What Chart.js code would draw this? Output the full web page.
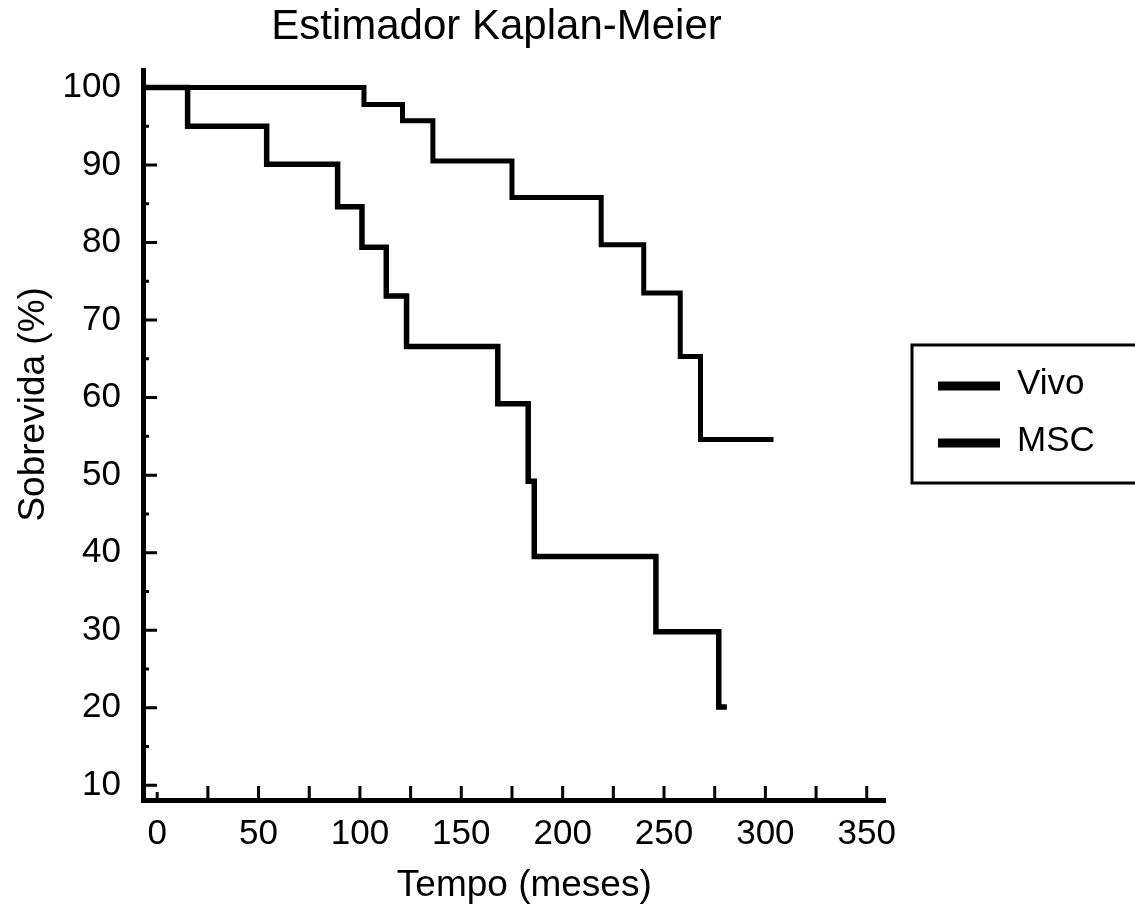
<!DOCTYPE html>
<html>
<head>
<meta charset="utf-8">
<title>Estimador Kaplan-Meier</title>
<script src="https://cdn.jsdelivr.net/npm/chart.js@4.4.1/dist/chart.umd.min.js"></script>
<style>
  html, body { margin: 0; padding: 0; background: #fff; }
  canvas { display: block; }
</style>
</head>
<body>
<canvas id="kmChart" width="1135" height="915"></canvas>
<script>
// Survival curves (months, % survival)
const vivoTime = [-7, 102, 121, 136, 175, 219, 240, 258, 268, 304];
const vivoSurv = [100, 97.8, 95.7, 90.5, 85.8, 79.7, 73.5, 65.3, 54.6, 54.6];
const mscTime = [-7, 15, 54, 89, 101, 113, 123, 168, 183, 186, 246, 277, 281];
const mscSurv = [100, 95.0, 90.1, 84.6, 79.4, 73.1, 66.6, 59.2, 49.2, 39.5, 29.8, 20.1, 20.1];

const seriesNames = ['Vivo', 'MSC'];
const xTicks = [0, 50, 100, 150, 200, 250, 300, 350];
const yTicks = [10, 20, 30, 40, 50, 60, 70, 80, 90, 100];

const FONT = '"Liberation Sans", Arial, Helvetica, sans-serif';

function toPoints(xs, ys) {
  return xs.map((x, i) => ({ x: x, y: ys[i] }));
}

// inward tick marks like the original (minor ones every 25 months / 5 %)
const tickMarks = {
  id: 'tickMarks',
  afterDraw(chart) {
    const ctx = chart.ctx;
    const xs = chart.scales.x, ys = chart.scales.y;
    const area = chart.chartArea;
    ctx.save();
    ctx.strokeStyle = '#000';
    ctx.lineWidth = 3;
    ctx.beginPath();
    for (let v = 0; v <= 350; v += 25) {
      const px = xs.getPixelForValue(v);
      ctx.moveTo(px, area.bottom);
      ctx.lineTo(px, area.bottom - (v === 0 ? 8 : 14));
    }
    for (let v = 10; v <= 100; v += 5) {
      const py = ys.getPixelForValue(v);
      ctx.moveTo(area.left, py);
      ctx.lineTo(area.left + (v % 10 === 0 ? 14 : 6), py);
    }
    ctx.stroke();
    ctx.restore();
  }
};

// legend drawn as a framed box to the right, like the original
const boxLegend = {
  id: 'boxLegend',
  afterDraw(chart) {
    const ctx = chart.ctx;
    const left = chart.chartArea.right + 27;
    const top = 345;
    ctx.save();
    ctx.strokeStyle = '#000';
    ctx.fillStyle = '#000';
    ctx.lineWidth = 3;
    ctx.strokeRect(left, top, 240, 138);
    ctx.font = '35px ' + FONT;
    ctx.textBaseline = 'middle';
    chart.data.datasets.forEach((ds, i) => {
      const y = top + 41 + i * 57;
      ctx.lineWidth = 9;
      ctx.beginPath();
      ctx.moveTo(left + 26, y);
      ctx.lineTo(left + 88, y);
      ctx.stroke();
      ctx.fillText(ds.label, left + 105, y - 2);
    });
    ctx.restore();
  }
};

new Chart(document.getElementById('kmChart'), {
  type: 'line',
  data: {
    datasets: [
      {
        label: seriesNames[0],
        data: toPoints(vivoTime, vivoSurv),
        stepped: true,
        borderColor: '#000',
        borderWidth: 5,
        pointRadius: 0,
        fill: false
      },
      {
        label: seriesNames[1],
        data: toPoints(mscTime, mscSurv),
        stepped: true,
        borderColor: '#000',
        borderWidth: 5.5,
        pointRadius: 0,
        fill: false
      }
    ]
  },
  options: {
    responsive: false,
    animation: false,
    layout: { padding: { left: 0, right: 250, top: 0, bottom: 0 } },
    plugins: {
      legend: { display: false },
      tooltip: { enabled: false },
      title: {
        display: true,
        fullSize: false,
        text: 'Estimador Kaplan-Meier   ',
        color: '#000',
        font: { family: FONT, size: 42, weight: 'normal' },
        padding: { top: 2, bottom: 18 }
      }
    },
    scales: {
      x: {
        type: 'linear',
        min: -7,
        max: 359,
        afterBuildTicks: s => { s.ticks = xTicks.map(v => ({ value: v })); },
        afterFit: s => { s.height = 115; },
        grid: { display: false },
        border: { display: true, color: '#000', width: 5 },
        ticks: { color: '#000', font: { family: FONT, size: 35 }, padding: 5, maxRotation: 0 },
        title: {
          display: true,
          text: '  Tempo (meses)',
          color: '#000',
          font: { family: FONT, size: 37 },
          padding: { top: 0, bottom: 7 }
        }
      },
      y: {
        type: 'linear',
        min: 8.1,
        max: 102.2,
        afterBuildTicks: s => { s.ticks = yTicks.map(v => ({ value: v })); },
        afterFit: s => { s.width = 143; },
        grid: { display: false },
        border: { display: true, color: '#000', width: 5 },
        ticks: { color: '#000', font: { family: FONT, size: 35 }, padding: 14 },
        title: {
          display: true,
          text: '      Sobrevida (%)',
          color: '#000',
          font: { family: FONT, size: 37 },
          padding: { top: 12, bottom: 0 }
        }
      }
    }
  },
  plugins: [tickMarks, boxLegend]
});
</script>
</body>
</html>
